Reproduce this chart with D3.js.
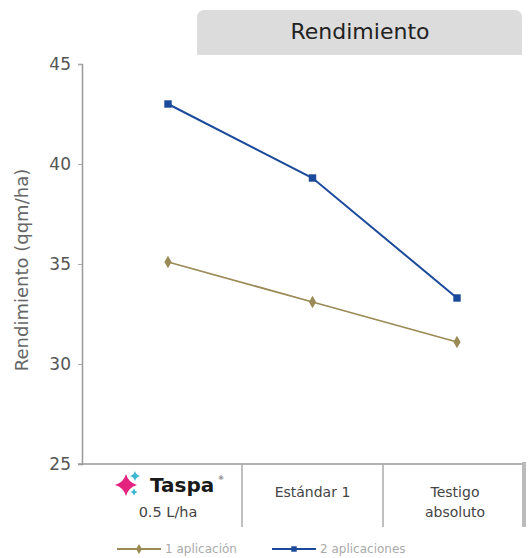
<!DOCTYPE html>
<html><head><meta charset="utf-8">
<script src="https://cdn.jsdelivr.net/npm/d3@7"></script>
<style>body{margin:0;background:#fff}svg{display:block}</style>
</head><body>
<svg id="c" width="530" height="558"></svg>
<script>
const categories = ["Taspa 0.5 L/ha", "Estándar 1", "Testigo absoluto"];
const oneApp = [35.1, 33.1, 31.1];
const twoApp = [43.0, 39.3, 33.3];
const yTicks = [25, 30, 35, 40, 45];
const seriesNames = ["1 aplicación", "2 aplicaciones"];

const svg = d3.select("#c");
const font = "DejaVu Sans, sans-serif";
const y = d3.scaleLinear().domain([25, 45]).range([464, 64]);
const xp = d3.scalePoint().domain(categories).range([168, 457]);
const xb = d3.scaleBand().domain(categories).range([101, 524]);

// title box
const tb = svg.append("g");
tb.append("path").attr("d", "M197,55 L197,18 Q197,10 205,10 L514,10 Q522,10 522,18 L522,55 Z")
  .attr("fill", "#dcdcdc");
tb.append("text").attr("x", 360).attr("y", 39).attr("text-anchor", "middle")
  .attr("font-family", font).attr("font-size", 22).attr("fill", "#222").text("Rendimiento");

// y axis
const ya = svg.append("g").attr("transform", "translate(82,0)")
  .call(d3.axisLeft(y).tickValues(yTicks).tickSize(4).tickPadding(7));
ya.select(".domain").attr("stroke", "#999").attr("stroke-width", 1.5);
ya.selectAll(".tick line").attr("stroke", "#aaa");
ya.selectAll(".tick text").attr("font-family", font).attr("font-size", 17).attr("fill", "#555");

svg.append("text").attr("transform", "translate(28,270) rotate(-90)")
  .attr("text-anchor", "middle").attr("font-family", font).attr("font-size", 18)
  .attr("fill", "#666").text("Rendimiento (qqm/ha)");

// x axis baseline
svg.append("line").attr("x1", 78).attr("x2", 524).attr("y1", y(25)).attr("y2", y(25))
  .attr("stroke", "#999").attr("stroke-width", 1.5);
// separators
categories.slice(0, 2).forEach(c => {
  svg.append("line").attr("x1", xb(c) + xb.bandwidth()).attr("x2", xb(c) + xb.bandwidth())
    .attr("y1", y(25)).attr("y2", 527).attr("stroke", "#aaa").attr("stroke-width", 1.5);
});
svg.append("rect").attr("x", xb(categories[2]) + xb.bandwidth() - 2).attr("y", y(25) - 2)
  .attr("width", 4).attr("height", 65).attr("fill", "#bbb");

// category labels
const lab = svg.append("g").attr("font-family", font).attr("fill", "#444").attr("text-anchor", "middle");
// Taspa logo
const tx = xp(categories[0]);
function star(cx, cy, r, col) {
  const w = r * 0.22;
  svg.append("path").attr("d",
    `M${cx},${cy - r} Q${cx + w},${cy - w} ${cx + r},${cy} Q${cx + w},${cy + w} ${cx},${cy + r} Q${cx - w},${cy + w} ${cx - r},${cy} Q${cx - w},${cy - w} ${cx},${cy - r} Z`)
    .attr("fill", col);
}
star(tx - 42, 485, 11, "#e4237f");
star(tx - 33, 476, 5, "#3fb7d1");
star(tx - 34, 492, 3.5, "#3fb7d1");
svg.append("text").attr("x", tx - 18).attr("y", 492).attr("font-family", font)
  .attr("font-weight", "bold").attr("font-size", 20).attr("fill", "#1a1a1a").text("Taspa");
svg.append("text").attr("x", tx + 50).attr("y", 480).attr("font-family", font)
  .attr("font-size", 6).attr("fill", "#333").text("®");
lab.append("text").attr("x", tx).attr("y", 517).attr("font-size", 14.5).text("0.5 L/ha");
lab.append("text").attr("x", xp(categories[1])).attr("y", 497).attr("font-size", 14).text("Estándar 1");
lab.append("text").attr("x", xp(categories[2]) - 2).attr("y", 497).attr("font-size", 14).text("Testigo");
lab.append("text").attr("x", xp(categories[2]) - 2).attr("y", 517).attr("font-size", 14).text("absoluto");

// lines
const line = d3.line().x((d, i) => xp(categories[i])).y(d => y(d));
const gold = "#9a8a55", blue = "#1c4a9b";
svg.append("path").datum(oneApp).attr("d", line).attr("fill", "none").attr("stroke", gold).attr("stroke-width", 1.8);
svg.append("path").datum(twoApp).attr("d", line).attr("fill", "none").attr("stroke", blue).attr("stroke-width", 2);
const dia = d3.symbol().type(d3.symbolDiamond).size(45);
const sq = d3.symbol().type(d3.symbolSquare).size(55);
svg.selectAll(".d").data(oneApp).enter().append("path")
  .attr("transform", (d, i) => `translate(${xp(categories[i])},${y(d)})`).attr("d", dia).attr("fill", gold);
svg.selectAll(".s").data(twoApp).enter().append("path")
  .attr("transform", (d, i) => `translate(${xp(categories[i])},${y(d)})`).attr("d", sq).attr("fill", blue);

// legend
const lg = svg.append("g").attr("font-family", font).attr("font-size", 12).attr("fill", "#aaa");
[[gold, 117], [blue, 272]].forEach(([col, x0], k) => {
  lg.append("line").attr("x1", x0).attr("x2", x0 + 44).attr("y1", 549).attr("y2", 549).attr("stroke", col).attr("stroke-width", 1.8);
  lg.append("path").attr("transform", `translate(${x0 + 22},549)`).attr("d", d3.symbol().type(k ? d3.symbolSquare : d3.symbolDiamond).size(30)).attr("fill", col);
  lg.append("text").attr("x", x0 + 48).attr("y", 553).text(seriesNames[k]);
});
</script>
</body></html>
